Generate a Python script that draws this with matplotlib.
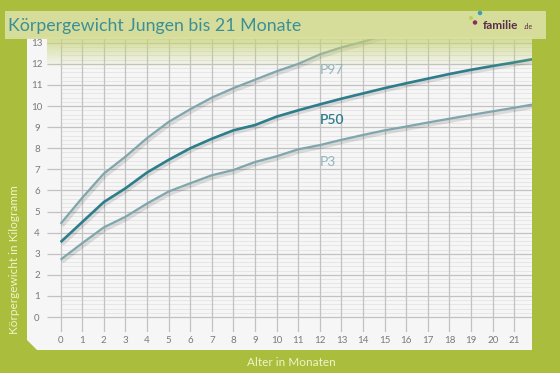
import matplotlib
matplotlib.use("Agg")
import matplotlib.pyplot as plt
import matplotlib.patheffects as pe
from matplotlib.patches import Polygon, Rectangle, Ellipse
import numpy as np

# Data
months = list(range(0, 23))
tick_months = list(range(0, 22))
p50 = [3.55, 4.5, 5.45, 6.1, 6.85, 7.45, 8.0, 8.45, 8.85, 9.1, 9.5, 9.8,
       10.08, 10.35, 10.6, 10.85, 11.08, 11.3, 11.52, 11.72, 11.9, 12.07, 12.25]
p3 = [2.72, 3.5, 4.25, 4.75, 5.38, 5.95, 6.34, 6.72, 6.97, 7.35, 7.62, 7.95,
      8.15, 8.4, 8.63, 8.85, 9.03, 9.22, 9.4, 9.58, 9.75, 9.92, 10.1]
p97_months = list(range(0, 16))
p97 = [4.42, 5.65, 6.8, 7.6, 8.48, 9.25, 9.85, 10.4, 10.85, 11.25, 11.65,
       12.0, 12.45, 12.78, 13.05, 13.35]
kg_ticks = list(range(0, 14))

title = "Körpergewicht Jungen bis 21 Monate"
xlabel = "Alter in Monaten"
ylabel = "Körpergewicht in Kilogramm"

GREEN = "#aabd3d"
W, H = 560, 373

plt.rcParams["font.family"] = ["Lato", "DejaVu Sans"]

fig = plt.figure(figsize=(W / 100, H / 100), dpi=100, facecolor=GREEN)


def fx(px):
    return px / W


def fy(py):
    return 1 - py / H


# white panel with chamfered lower-left corner
panel = Polygon([(fx(27), fy(37)), (fx(532), fy(37)), (fx(532), fy(350)),
                 (fx(37), fy(350)), (fx(27), fy(340))],
                closed=True, transform=fig.transFigure, facecolor="#f6f6f6",
                edgecolor="none", zorder=0)
fig.patches.append(panel)

ax = fig.add_axes([fx(47), fy(332), fx(532) - fx(47), fy(37.5) - fy(332)])
ax.set_zorder(1)
ax.set_facecolor("none")
for s in ax.spines.values():
    s.set_visible(False)
xmin, xmax = -0.63, 21.82
ymin, ymax = -0.71, 13.25
ax.set_xlim(xmin, xmax)
ax.set_ylim(ymin, ymax)

# grid
minor = [v / 5 for v in range(0, 67) if v % 5 != 0]
ax.hlines(minor, 0, xmax, color="#e4e4e4", lw=0.6, zorder=1)
ax.hlines(kg_ticks, xmin, xmax, color="#c2c2c2", lw=0.9, zorder=2)
ax.vlines(tick_months, ymin, ymax, color="#c2c2c2", lw=0.9, zorder=2)

shadow = [pe.SimpleLineShadow(offset=(1.2, -1.6), alpha=0.11, linewidth=2.6),
          pe.Normal()]
ax.plot(p97_months, p97, color="#7fa5ad", lw=1.6, zorder=4,
        path_effects=shadow, solid_capstyle="butt")
ax.plot(months, p3, color="#7fa5ad", lw=1.6, zorder=4,
        path_effects=shadow, solid_capstyle="butt")
ax.plot(months, p50, color="#2d7d8b", lw=1.9, zorder=5,
        path_effects=shadow, solid_capstyle="butt")

ax.text(12.0, 11.72, "P97", color="#93b5bd", fontsize=10, va="center", zorder=6)
ax.text(12.0, 9.35, "P50", color="#2d7d8b", fontsize=10, va="center",
        fontweight="semibold", zorder=6)
ax.text(12.0, 7.35, "P3", color="#93b5bd", fontsize=10, va="center", zorder=6)

# yellow-green fade at top of the panel
grad = np.linspace(0, 1, 100).reshape(-1, 1)
cmap = matplotlib.colors.LinearSegmentedColormap.from_list(
    "fade", [(0.78, 0.83, 0.45, 0.0), (0.78, 0.83, 0.45, 0.75)])
ax.imshow(grad, extent=[xmin, xmax, 11.8, ymax], origin="lower", cmap=cmap,
          aspect="auto", zorder=7, interpolation="bilinear")
ax.set_xlim(xmin, xmax)
ax.set_ylim(ymin, ymax)

ax.set_xticks(tick_months)
ax.set_xticklabels([str(m) for m in tick_months])
ax.set_yticks(kg_ticks)
ax.set_yticklabels([str(k) for k in kg_ticks])
ax.tick_params(axis="both", length=0, labelsize=7, labelcolor="#7a7a7a")
ax.tick_params(axis="y", pad=7.2)
ax.tick_params(axis="x", pad=3)
for tl in ax.get_yticklabels():
    tl.set_ha("center")

# title box
fig.patches.append(Rectangle((fx(5), fy(39)), fx(546) - fx(5), fy(11) - fy(39),
                             transform=fig.transFigure, facecolor="#d9dfa0",
                             edgecolor="none", alpha=0.95, zorder=10))
fig.text(fx(8), fy(25.5), title, color="#3d8f96", fontsize=12.8,
         ha="left", va="center", zorder=11)

# logo
fig.text(fx(483), fy(29), "familie", color="#5b2d4d", fontsize=8.5,
         fontweight="bold", ha="left", va="baseline", zorder=11)
fig.text(fx(524), fy(29), ".de", color="#5b2d4d", fontsize=5,
         ha="left", va="baseline", zorder=11)
for (cx, cy, d, c) in [(480, 13, 4.5, "#3aa0b5"), (471, 18, 4.0, "#b9d25a"),
                       (475, 22.5, 4.5, "#8a2f5d")]:
    fig.patches.append(Ellipse((fx(cx), fy(cy)), d / W, d / H,
                               transform=fig.transFigure, facecolor=c,
                               edgecolor="none", zorder=12))

fig.text(fx(15), fy(260), ylabel, color="#f1f3c8", fontsize=8.5, rotation=90,
         ha="center", va="center")
fig.text(fx(291.5), fy(362), xlabel, color="#f1f3c8", fontsize=8.5,
         ha="center", va="center")

fig.savefig("out.png", dpi=100, facecolor=GREEN)
